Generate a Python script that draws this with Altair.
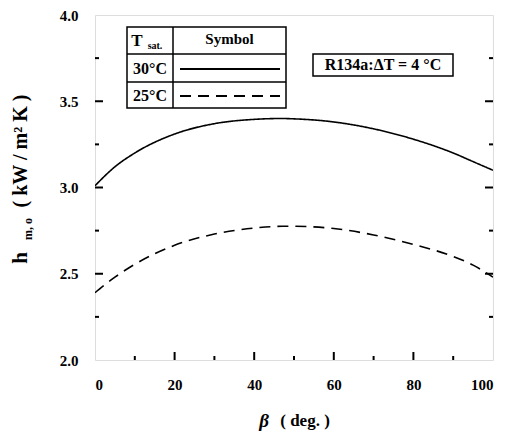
import altair as alt
import pandas as pd

beta = [0, 5, 10, 20, 30, 40, 47, 50, 60, 70, 80, 90, 95, 100]
h30 = [3.01, 3.12, 3.20, 3.31, 3.37, 3.395, 3.40, 3.398, 3.38, 3.34, 3.28, 3.20, 3.15, 3.10]
h25 = [2.39, 2.48, 2.555, 2.665, 2.73, 2.765, 2.775, 2.775, 2.762, 2.725, 2.67, 2.60, 2.55, 2.48]
series_names = ["30°C", "25°C"]

y_major = [2.5, 3.0, 3.5]
y_minor = [2.25, 2.75, 3.25, 3.75]
x_major = [20, 40, 60, 80]
x_minor = [10, 30, 50, 70, 90]

W, H = 398, 345
FONT = "Times New Roman, Liberation Serif, DejaVu Serif, serif"

rows = []
for b, a, c in zip(beta, h30, h25):
    rows.append({"beta": b, "h": a, "s": series_names[0]})
    rows.append({"beta": b, "h": c, "s": series_names[1]})
df = pd.DataFrame(rows)

xs = alt.Scale(domain=[0, 100], nice=False)
ys = alt.Scale(domain=[2.0, 4.0], nice=False)

lines = alt.Chart(df).mark_line(color="black", strokeWidth=1.6, clip=True, interpolate="monotone").encode(
    x=alt.X("beta:Q", scale=xs,
            axis=alt.Axis(values=[0, 20, 40, 60, 80, 100], ticks=False, domain=False, grid=False,
                          labelFont=FONT, labelFontWeight="bold", labelFontSize=15,
                          labelColor="black", labelPadding=17, title=None, format="d")),
    y=alt.Y("h:Q", scale=ys,
            axis=alt.Axis(values=[2.0, 2.5, 3.0, 3.5, 4.0], ticks=False, domain=False, grid=False,
                          labelFont=FONT, labelFontWeight="bold", labelFontSize=15,
                          labelColor="black", labelPadding=17, title=None, format=".1f")),
    strokeDash=alt.StrokeDash("s:N", scale=alt.Scale(domain=series_names, range=[[1, 0], [11, 7]]),
                              legend=None),
    detail="s:N",
)

def yticks(vals, length):
    d = pd.DataFrame({"v": vals})
    left = alt.Chart(d).mark_rule(color="black", strokeWidth=2).encode(
        y=alt.Y("v:Q", scale=ys), x=alt.value(0), x2=alt.value(length))
    right = alt.Chart(d).mark_rule(color="black", strokeWidth=2).encode(
        y=alt.Y("v:Q", scale=ys), x=alt.value(W - length), x2=alt.value(W))
    return [left, right]

def xticks(vals, length):
    d = pd.DataFrame({"v": vals})
    return [alt.Chart(d).mark_rule(color="black", strokeWidth=2).encode(
        x=alt.X("v:Q", scale=xs), y=alt.value(H - length), y2=alt.value(H))]

ticks = yticks(y_major, 8) + yticks(y_minor, 4) + xticks(x_major, 8) + xticks(x_minor, 4)

one = pd.DataFrame({"a": [0]})

def rect(x1, y1, x2, y2, sw=1.5):
    return alt.Chart(one).mark_rect(fill="white", stroke="black", strokeWidth=sw).encode(
        x=alt.value(x1), x2=alt.value(x2), y=alt.value(y1), y2=alt.value(y2))

def rule(x1, y1, x2, y2, sw=1.5, dash=None):
    kw = dict(color="black", strokeWidth=sw)
    if dash:
        kw["strokeDash"] = dash
    return alt.Chart(one).mark_rule(**kw).encode(
        x=alt.value(x1), x2=alt.value(x2), y=alt.value(y1), y2=alt.value(y2))

def text(t, x, y, size=14, angle=0, style="normal", align="center", baseline="middle"):
    return alt.Chart(one).mark_text(font=FONT, fontWeight="bold", fontSize=size, angle=angle,
                                    fontStyle=style, align=align, baseline=baseline,
                                    color="black").encode(
        x=alt.value(x), y=alt.value(y), text=alt.value(t))

# legend table (pixel offsets within plot)
L0, L1, L2 = 32, 78, 191
T0, T1, T2, T3 = 12, 39, 67, 93
legend = [
    rect(L0, T0, L2, T3),
    rule(L1, T0, L1, T3),
    rule(L0, T1, L2, T1),
    rule(L0, T2, L2, T2),
    text("T", 42, T0 + 14, size=17),
    text("sat.", 60, T0 + 19, size=10),
    text("Symbol", (L1 + L2) / 2, T0 + 12, size=15),
    text("30°C", (L0 + L1) / 2, (T1 + T2) / 2 + 1, size=16),
    text("25°C", (L0 + L1) / 2, (T2 + T3) / 2 + 1, size=16),
    rule(85, (T1 + T2) / 2 + 1, 185, (T1 + T2) / 2 + 1, sw=2),
    rule(85, (T2 + T3) / 2 + 1, 185, (T2 + T3) / 2 + 1, sw=2, dash=[11, 7]),
    rect(218, 39, 358, 61),
    text("R134a:ΔT = 4 °C", 288, 50, size=16),
]

# axis titles as text
titles = [
    text("h", -74, 243, size=21, angle=270),
    text("m, o", -67, 214, size=12, angle=270),
    text("( kW / m² K )", -74, 136, size=20, angle=270),
    text("β", 169, 406, size=19, style="italic"),
    text("( deg. )", 210, 406, size=17),
]

chart = alt.layer(lines, *ticks, *legend, *titles).properties(
    width=W, height=H,
    autosize=alt.AutoSizeParams(type="none"),
    padding={"left": 87, "top": 7, "right": 6, "bottom": 76}
).configure_view(stroke="black", strokeWidth=2.5).configure(background="white")

chart.save("out.html", embed_options={"renderer": "svg", "actions": False})
